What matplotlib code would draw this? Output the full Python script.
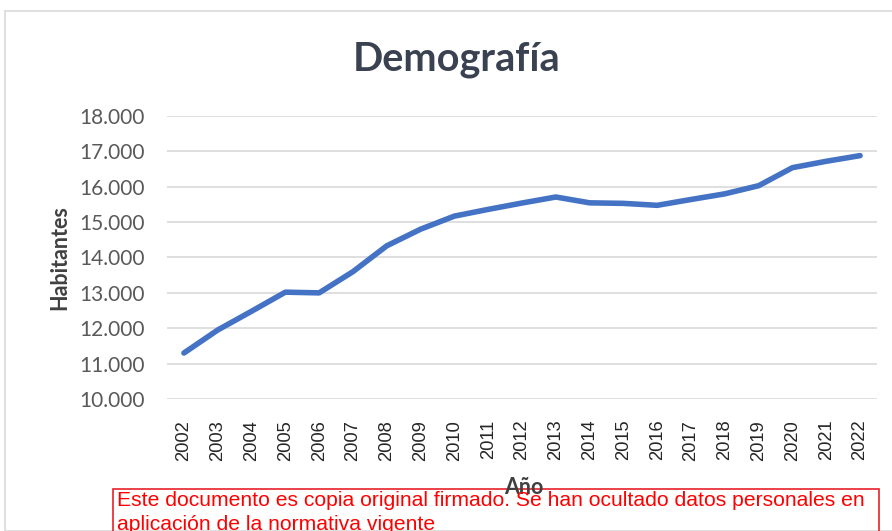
import matplotlib.pyplot as plt
from matplotlib.patches import Rectangle
from matplotlib.ticker import FuncFormatter

# Population by year
years = [str(y) for y in range(2002, 2023)]
habitantes = [11300, 11950, 12480, 13020, 13000, 13600, 14330, 14800, 15170, 15360,
              15540, 15710, 15545, 15530, 15475, 15640, 15800, 16030, 16540, 16720, 16880]

W, H = 892, 531
fig = plt.figure(figsize=(W / 100, H / 100), dpi=100)
fig.patch.set_facecolor("white")


def px(x0, y0, x1, y1):
    return [x0 / W, 1 - y1 / H, (x1 - x0) / W, (y1 - y0) / H]


# chart frame
fig.patches.append(Rectangle((5 / W, 1 - 531 / H), 900 / W, 520 / H,
                             transform=fig.transFigure, fill=False,
                             edgecolor="#d9d9d9", linewidth=1.2))

ax = fig.add_axes(px(167, 116, 877, 399))
x = range(len(years))
ax.plot(x, habitantes, color="#4472C4", linewidth=4.0,
        solid_joinstyle="round", solid_capstyle="round", zorder=3)

ax.set_xlim(-0.5, len(years) - 0.5)
ax.set_ylim(10000, 18000)
ax.set_yticks(range(10000, 18001, 1000))
ax.yaxis.set_major_formatter(FuncFormatter(lambda v, p: f"{int(v):,}".replace(",", ".")))
ax.set_xticks(list(x))
ax.set_xticklabels(years, rotation=90, fontsize=13.2, family="Liberation Sans",
                   color="#262626")
for lab in ax.get_yticklabels():
    lab.set_fontsize(15)
    lab.set_family("Lato")
    lab.set_color("#595959")

ax.grid(axis="y", color="#d9d9d9", linewidth=1.2)
ax.set_axisbelow(True)
for s in ax.spines.values():
    s.set_visible(False)
ax.tick_params(length=0)
ax.tick_params(axis="x", pad=15)
ax.tick_params(axis="y", pad=16)

fig.text(457 / W, 1 - 60 / H, "Demografía", ha="center", va="center",
         fontsize=28.5, fontweight="bold", family="Lato", color="#3a4150")
fig.text(60 / W, 1 - 258 / H, "Habitantes", rotation=90, ha="center", va="center",
         fontsize=15.5, fontweight="bold", family="Lato", color="#404040")
fig.text(524 / W, 1 - 487 / H, "Año", ha="center", va="center",
         fontsize=15.5, fontweight="bold", family="Lato", color="#404040")

# stamp box at the bottom
fig.patches.append(Rectangle((113 / W, 1 - 545 / H), (879 - 113) / W, (545 - 489) / H,
                             transform=fig.transFigure, fill=False,
                             edgecolor="#e8202a", linewidth=1.2))
fig.text(117 / W, 1 - 501 / H,
         "Este documento es copia original firmado. Se han ocultado datos personales en",
         ha="left", va="center", fontsize=15.2, family="Liberation Sans", color="#ff0000")
fig.text(117 / W, 1 - 524 / H, "aplicación de la normativa vigente",
         ha="left", va="center", fontsize=15.2, family="Liberation Sans", color="#ff0000")

fig.savefig("out.png", dpi=100)
